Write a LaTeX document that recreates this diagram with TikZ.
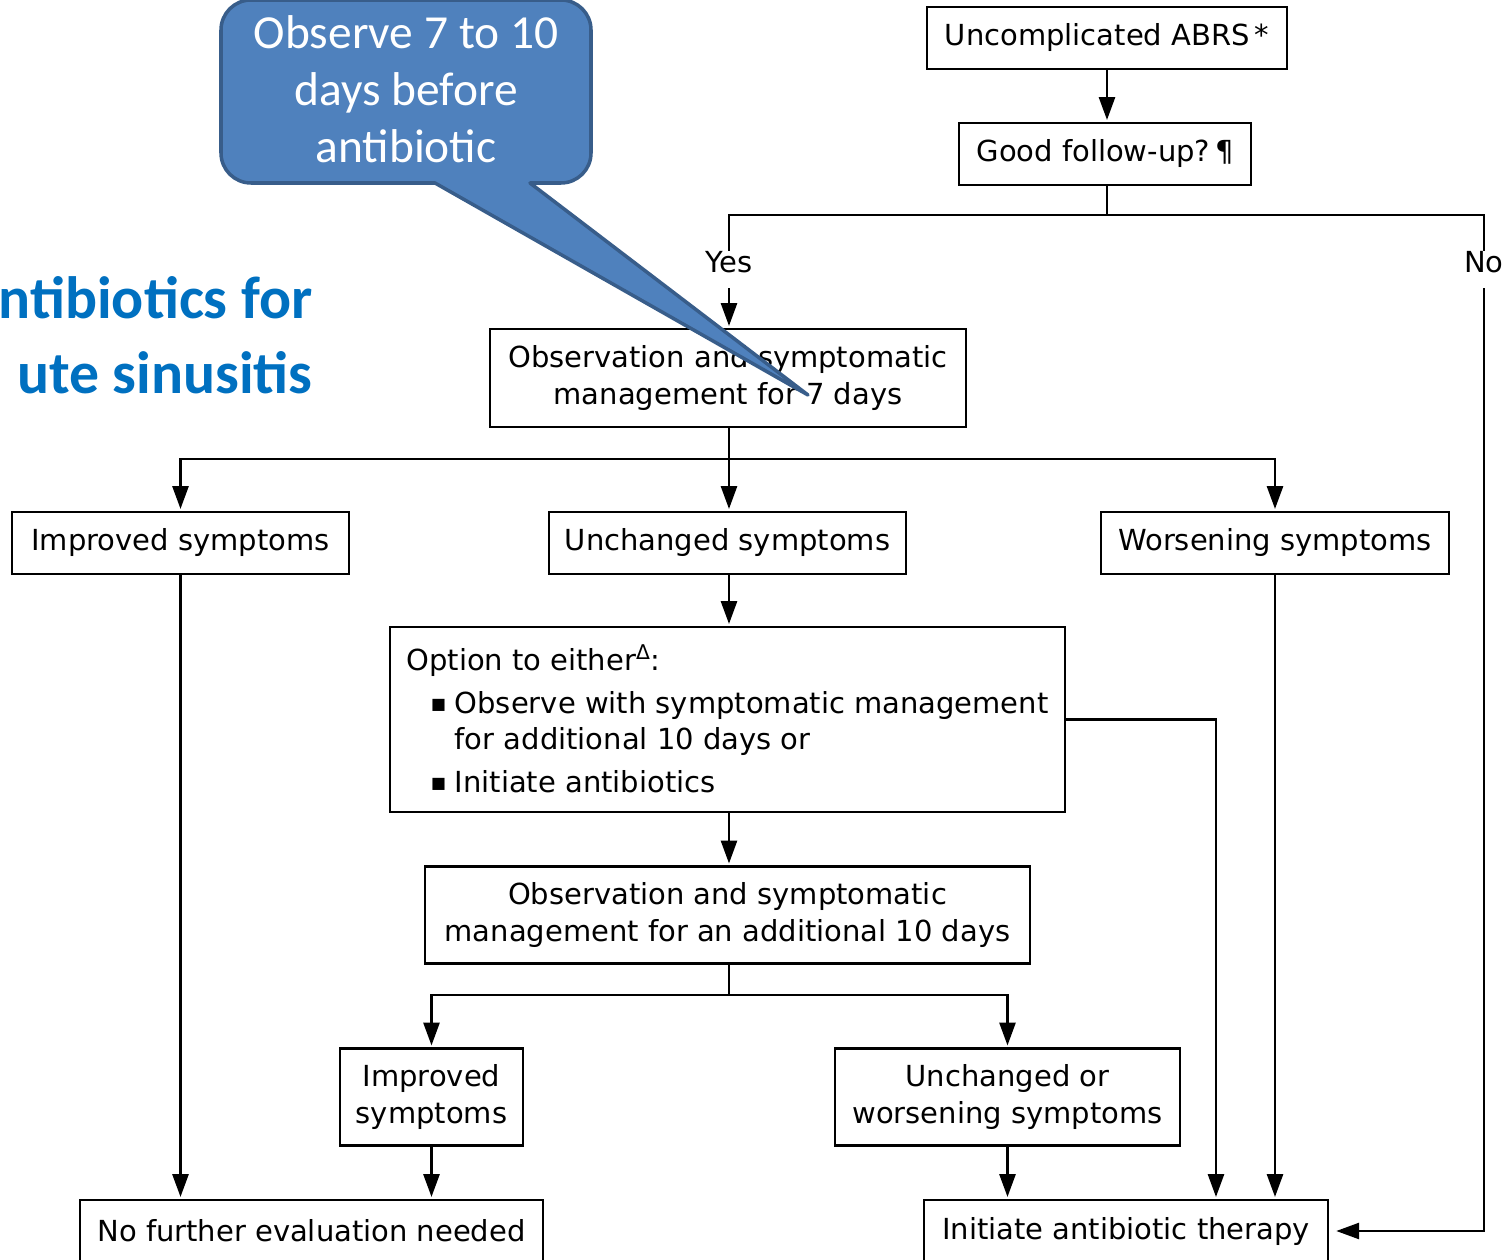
\documentclass[tikz,border=0pt]{standalone}
\usepackage{fontspec}
\setmainfont{DejaVu Sans}
\newfontfamily\calibri{Carlito}
\usetikzlibrary{arrows.meta}
\definecolor{calloutblue}{HTML}{4F81BD}
\definecolor{calloutedge}{HTML}{385D8A}
\definecolor{titleblue}{HTML}{0070C0}
\tikzset{
  box/.style={draw, line width=1.4pt, inner sep=0pt, align=center,
    font=\fontsize{16.5}{20.5}\selectfont},
  lbl/.style={inner sep=0pt, font=\fontsize{16.5}{20.5}\selectfont},
  link/.style={line width=1.6pt},
  arr/.style={line width=1.6pt, -{Triangle[length=0.46cm,width=0.32cm]}, shorten >=1pt},
  callout/.style={fill=calloutblue, draw=calloutedge, line width=2pt, line join=round},
}
\begin{document}
\begin{tikzpicture}[x=0.02cm, y=-0.02cm]
            \useasboundingbox (0,0) rectangle (1509,1260);
            \clip (0,0) rectangle (1509,1260);
            \node[box, minimum width=7.2cm, minimum height=1.24cm] (abrs) at (1107,38) {Uncomplicated ABRS\,*};
            \node[box, minimum width=5.84cm, minimum height=1.24cm] (follow) at (1105,154) {Good follow-up?\,¶};
            \node[lbl] (yes) at (729,262) {Yes};
            \node[lbl] (no) at (1484,262) {No};
            \coordinate (split1) at (1107,215);
            \node[box, minimum width=9.52cm, minimum height=1.96cm] (obs7) at (728,378) {Observation and symptomatic\\management for 7 days};
            \coordinate (split2) at (729,459);
            \node[box, minimum width=6.74cm, minimum height=1.24cm] (improved) at (180.5,543) {Improved symptoms};
            \node[box, minimum width=7.14cm, minimum height=1.24cm] (unchanged) at (727.5,543) {Unchanged symptoms};
            \node[box, minimum width=6.96cm, minimum height=1.24cm] (worsening) at (1275,543) {Worsening symptoms};
            \node[box, minimum width=13.5cm, minimum height=3.7cm] (option) at (727.5,719.5) {%
              \begin{tabular}{@{}r@{\hspace{5pt}}l@{}}
              \multicolumn{2}{@{}l@{}}{Option to either\textsuperscript{Δ}:}\\[4pt]
              \hspace*{14pt}\raisebox{2pt}{\fontsize{9}{9}\selectfont ■} & Observe with symptomatic management\\
               & for additional 10 days or\\[4pt]
              \raisebox{2pt}{\fontsize{9}{9}\selectfont ■} & Initiate antibiotics
              \end{tabular}\\[-6pt]};
            \node[box, minimum width=12.1cm, minimum height=1.94cm] (obs10) at (727.5,915) {Observation and symptomatic\\management for an additional 10 days};
            \coordinate (split3) at (729,995);
            \node[box, minimum width=3.66cm, minimum height=1.94cm] (improved2) at (431.5,1097) {Improved\\symptoms};
            \node[box, minimum width=6.9cm, minimum height=1.94cm] (unchworse) at (1007.5,1097) {Unchanged or\\worsening symptoms};
            \node[box, minimum width=9.26cm, minimum height=1.24cm] (nofurther) at (311.5,1231) {No further evaluation needed};
            \node[box, minimum width=8.08cm, minimum height=1.24cm] (therapy) at (1126,1231) {Initiate antibiotic therapy};
            \draw[arr] (abrs.south) -- (abrs.south |- follow.north);
            \draw[link] (split1 |- follow.south) -- (split1);
            \draw[link] (yes.north) -- (yes.north |- split1) -- (split1 -| no) -- (no.north);
            \draw[arr, shorten <=0.3cm] (yes.south) -- (yes.south |- obs7.north);
            \draw[arr, shorten <=0.3cm, shorten >=4pt] (no.south) |- (therapy.east);
            \draw[link] (split2 |- obs7.south) -- (split2);
            \draw[arr] (split2) -| (improved.north);
            \draw[arr] (split2) -- (split2 |- unchanged.north);
            \draw[arr] (split2) -| (worsening.north);
            \draw[arr] (split2 |- unchanged.south) -- (split2 |- option.north);
            \draw[arr] (option.east) -| ([xshift=1.8cm]therapy.north);
            \draw[arr] (worsening.south) -- (worsening.south |- therapy.north);
            \draw[arr] (improved.south) -- (improved.south |- nofurther.north);
            \draw[arr] (split2 |- option.south) -- (split2 |- obs10.north);
            \draw[link] (split3 |- obs10.south) -- (split3);
            \draw[arr] (split3) -| (improved2.north);
            \draw[arr] (split3) -| (unchworse.north);
            \draw[arr] (improved2.south) -- (improved2.south |- nofurther.north);
            \draw[arr] (unchworse.south) -- (unchworse.south |- therapy.north);
            \node[anchor=east, inner sep=0pt, align=right, text=titleblue,
              font=\calibri\bfseries\fontsize{34}{43}\selectfont] (title) at (313,335) {ntibiotics for\\ute sinusitis};
            \draw[callout] (808,395) -- (435,183) [rounded corners=0.6cm] -- (221,183) -- (221,0) -- (591,0) -- (591,183) [sharp corners] -- (530,183) -- cycle;
            \node[text=white, align=center, inner sep=0pt,
              font=\calibri\fontsize{27}{32.5}\selectfont] (callouttext) at (406,89) {Observe 7 to 10\\days before\\antibiotic};
        \end{tikzpicture}
\end{document}
